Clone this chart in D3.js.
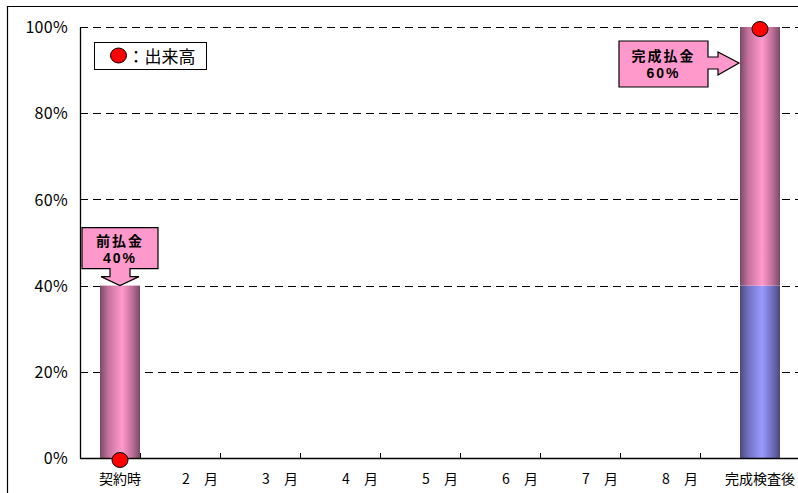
<!DOCTYPE html>
<html>
<head>
<meta charset="utf-8">
<script src="https://cdn.jsdelivr.net/npm/d3@7/dist/d3.min.js"></script>
<style>
  html, body { margin: 0; padding: 0; background: #fff; }
  svg { display: block; }
  text { font-family: "Noto Sans CJK JP", "Noto Sans", sans-serif; fill: #000; }
  text.note { font-family: "Liberation Sans", "Noto Sans CJK JP", sans-serif; }
</style>
</head>
<body>
<svg id="chart" width="798" height="493"></svg>
<script>
// Payment schedule: categories along the construction period
const categories = ["契約時", "2　月", "3　月", "4　月", "5　月", "6　月", "7　月", "8　月", "完成検査後"];
// Already-paid share carried forward (blue) and the payment made at that stage (pink), in %
const paidBefore = [0, 0, 0, 0, 0, 0, 0, 0, 40];
const paymentNow = [40, 0, 0, 0, 0, 0, 0, 0, 60];
// Work progress (出来高) markers, in %
const progress = [
  { cat: "契約時", value: 0 },
  { cat: "完成検査後", value: 100 }
];
const yTicks = [0, 20, 40, 60, 80, 100];
// Callout notes attached to the payments
const notes = [
  { cat: "契約時", value: 40, lines: ["前払金", "40%"], dir: "down" },
  { cat: "完成検査後", value: 100, lines: ["完成払金", "60%"], dir: "right" }
];

const svg = d3.select("#chart");
const margin = { left: 80, right: -2, top: 27, bottom: 35 };
const W = 798, H = 493;
const x0 = margin.left, x1 = W - margin.right;
const yTop = margin.top, yBot = H - margin.bottom;

const x = d3.scaleBand().domain(categories).range([x0, x1]).paddingInner(0.5).paddingOuter(0.25);
const y = d3.scaleLinear().domain([0, 100]).range([yBot, yTop]);

// Outer frame
svg.append("path")
  .attr("d", `M7.5,${H} V6.5 H${W}`)
  .attr("fill", "none").attr("stroke", "#000").attr("stroke-width", 1.2);

// Cylinder-style shading for the bars
const defs = svg.append("defs");
function cylinder(id, edge, mid, centre) {
  const g = defs.append("linearGradient").attr("id", id)
    .attr("x1", "0%").attr("x2", "100%").attr("y1", "0%").attr("y2", "0%");
  [[0, edge], [0.2, mid], [0.55, centre], [0.8, mid], [1, edge]].forEach(([o, c]) =>
    g.append("stop").attr("offset", o).attr("stop-color", c));
}
cylinder("gPink", "#7a4a63", "#c4709c", "#ff9acc");
cylinder("gBlue", "#4a4a7c", "#7070c0", "#9a9aff");

// Gridlines
svg.append("g").selectAll("line")
  .data(yTicks.filter(d => d > 0))
  .join("line")
  .attr("x1", x0).attr("x2", x1)
  .attr("y1", d => Math.round(y(d)) + 0.5).attr("y2", d => Math.round(y(d)) + 0.5)
  .attr("stroke", "#000").attr("stroke-width", 1)
  .attr("stroke-dasharray", "8,5");

// Stacked bars
const rows = categories.map((c, i) => ({ cat: c, before: paidBefore[i], now: paymentNow[i] }));
const stack = d3.stack().keys(["before", "now"])(rows);
const fills = { before: "url(#gBlue)", now: "url(#gPink)" };
svg.append("g").selectAll("g")
  .data(stack)
  .join("g")
  .attr("fill", s => fills[s.key])
  .selectAll("rect")
  .data(s => s.filter(d => d[1] > d[0]))
  .join("rect")
  .attr("x", d => x(d.data.cat))
  .attr("width", x.bandwidth())
  .attr("y", d => y(d[1]))
  .attr("height", d => y(d[0]) - y(d[1]));

// Axes
const yAxis = d3.axisLeft(y).tickValues(yTicks).tickSize(0).tickPadding(12).tickFormat(d => d + "%");
const gy = svg.append("g").attr("transform", `translate(${x0},0)`).call(yAxis);
gy.select(".domain").attr("stroke", "#000").attr("stroke-width", 1.3);
gy.selectAll("text").attr("font-size", 16).attr("dy", "0.36em").style("letter-spacing", "0.3px");

// Category ticks sit on the band boundaries
const xAxisLine = svg.append("g");
xAxisLine.append("line").attr("x1", x0).attr("x2", x1).attr("y1", yBot + 0.5).attr("y2", yBot + 0.5)
  .attr("stroke", "#000").attr("stroke-width", 1.3);
xAxisLine.selectAll(".tk")
  .data(categories.slice(1))
  .join("line")
  .attr("x1", c => x(c) - x.step() * x.paddingInner() / 2 - x.bandwidth() / 2 + 0.5)
  .attr("x2", c => x(c) - x.step() * x.paddingInner() / 2 - x.bandwidth() / 2 + 0.5)
  .attr("y1", yBot).attr("y2", yBot - 5)
  .attr("stroke", "#000");
xAxisLine.selectAll("text")
  .data(categories)
  .join("text")
  .attr("x", c => x(c) + x.bandwidth() / 2)
  .attr("y", yBot + 26)
  .attr("text-anchor", "middle")
  .attr("font-size", 14)
  .text(c => c);

// Progress markers
svg.append("g").selectAll("ellipse")
  .data(progress)
  .join("ellipse")
  .attr("cx", d => x(d.cat) + x.bandwidth() / 2)
  .attr("cy", d => y(d.value) + 2)
  .attr("rx", 8).attr("ry", 7.5)
  .attr("fill", "#ff0000").attr("stroke", "#000").attr("stroke-width", 1);

// Legend
const lg = svg.append("g").attr("transform", "translate(94.5,42.5)");
lg.append("rect").attr("width", 112).attr("height", 27).attr("fill", "#fff").attr("stroke", "#000");
lg.append("ellipse").attr("cx", 24).attr("cy", 13).attr("rx", 8).attr("ry", 7.5)
  .attr("fill", "#ff0000").attr("stroke", "#000");
lg.append("text").attr("x", 33).attr("y", 20).attr("font-size", 17).text("：出来高");

// Callouts
const callouts = svg.append("g");
notes.forEach(n => {
  const cx = x(n.cat) + x.bandwidth() / 2;
  const ty = y(n.value);
  let path, tx, ty1;
  if (n.dir === "down") {
    const bx0 = cx - 38, bx1 = cx + 38, by0 = ty - 58, by1 = ty - 17;
    path = `M${bx0},${by0} H${bx1} V${by1} H${cx + 10} V${ty - 9} H${cx + 19} L${cx},${ty} L${cx - 19},${ty - 9} H${cx - 10} V${by1} H${bx0} Z`;
    tx = cx; ty1 = by0 + 18;
  } else {
    const tipX = x(n.cat) - 1, tipY = ty + 36;
    const bx1 = tipX - 31, bx0 = bx1 - 89, by0 = tipY - 22, by1 = tipY + 24;
    path = `M${bx0},${by0} H${bx1} V${tipY - 6} H${tipX - 21} V${tipY - 11} L${tipX},${tipY} L${tipX - 21},${tipY + 12} V${tipY + 6} H${bx1} V${by1} H${bx0} Z`;
    tx = (bx0 + bx1) / 2; ty1 = by0 + 20;
  }
  callouts.append("path").attr("d", path)
    .attr("fill", "#ff99cc").attr("stroke", "#000").attr("stroke-width", 1.2)
    .attr("stroke-linejoin", "miter");
  n.lines.forEach((t, i) => {
    callouts.append("text")
      .attr("class", "note")
      .attr("x", tx).attr("y", ty1 + i * 17)
      .attr("text-anchor", "middle")
      .attr("font-size", 14).attr("font-weight", "bold")
      .style("letter-spacing", "2px")
      .text(t);
  });
});
</script>
</body>
</html>
